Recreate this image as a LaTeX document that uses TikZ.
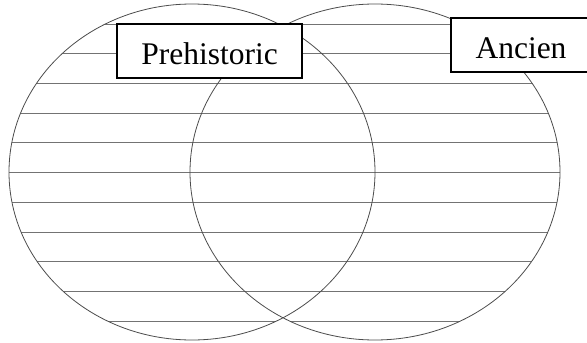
\documentclass[tikz,border=0pt]{standalone}
\usepackage{fontspec}
\setmainfont{Liberation Serif}
\usetikzlibrary{positioning}

\begin{document}
\begin{tikzpicture}[x=1pt,y=-1pt,
    rule/.style={black!55,line width=0.8pt},
    ring/.style={black!70,line width=0.8pt},
    labelbox/.style={draw,line width=1.5pt,fill=white,inner sep=0pt,
      minimum height=54pt,text height=26pt,text depth=0pt,
      font=\fontsize{31.5}{36}\selectfont}]
    \useasboundingbox (0,0) rectangle (587,343);

    % ruled lines, left circle
    \begin{scope}
        \clip (192,172) ellipse [x radius=183,y radius=168];
        \foreach \k in {0,...,10}
            \draw[rule] (0,{24+29.7*\k}) -- (587,{24+29.7*\k});
    \end{scope}

    % ruled lines, right circle
    \begin{scope}
        \clip (375,172) ellipse [x radius=185,y radius=168];
        \foreach \k in {0,...,10}
            \draw[rule] (0,{24+29.7*\k}) -- (587,{24+29.7*\k});
    \end{scope}

    % the two circles
    \draw[ring] (192,172) ellipse [x radius=183,y radius=168];
    \draw[ring] (375,172) ellipse [x radius=185,y radius=168];

    % labels
    \node[labelbox,minimum width=185pt] (prehistoric) at (209.5,51) {Prehistoric};
    \node[labelbox,minimum width=140pt] (ancien) at (521,45) {Ancien};
\end{tikzpicture}
\end{document}
